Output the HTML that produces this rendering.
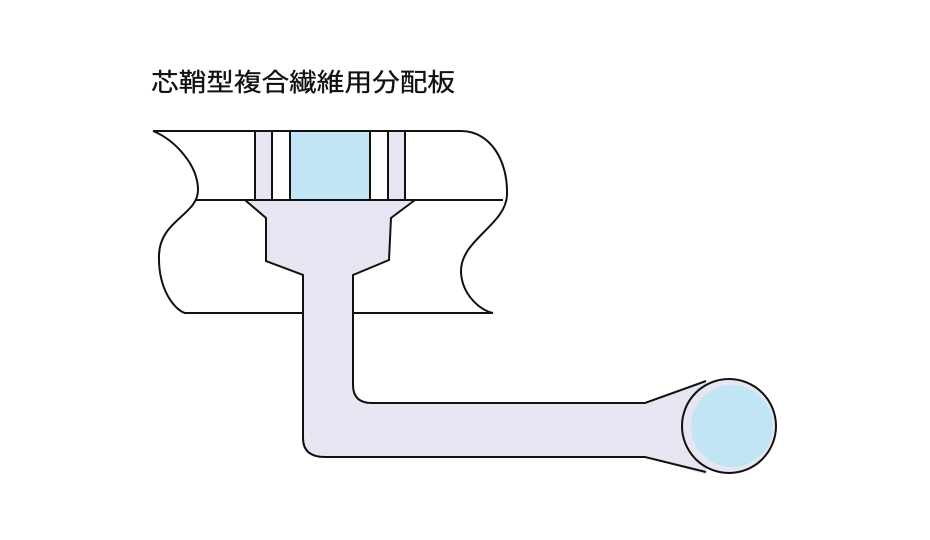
<!DOCTYPE html>
<html><head><meta charset="utf-8"><style>
html,body{margin:0;padding:0;background:#fff;}
svg{display:block;}
</style></head><body>
<svg width="930" height="540" viewBox="0 0 930 540" xmlns="http://www.w3.org/2000/svg">
<text x="151" y="91" font-family="'Liberation Sans','Noto Sans CJK JP',sans-serif" font-size="25" fill="#111" stroke="#111" stroke-width="0.3" textLength="304" lengthAdjust="spacingAndGlyphs">芯鞘型複合繊維用分配板</text>
<rect x="255" y="131" width="17" height="69" fill="#e5e6f1"/>
<rect x="388" y="131" width="17" height="69" fill="#e5e6f1"/>
<rect x="290" y="131" width="80" height="69" fill="#c2e5f5"/>
<path d="M245,200 L266,218 L266,261 L303,275 L303,438 Q303,457 325,457 L645,457 L706,475 L706,380 L645,403 L372,403 Q353,403 353,385 L353,275 L389,260 L391,218 L415,200 Z" fill="#e5e6f1"/>
<g fill="none" stroke="#111" stroke-width="2">
<path d="M153,131 L461,131 C490,131 508,160 507,195 C506,225 460,240 461,272 C462,295 480,310 493,313"/>
<path d="M153,131 C175,140 198,165 198,190 C198,215 160,220 159,255 C158,290 175,310 185,313 L302,313"/>
<path d="M352,313 L493,313"/>
<path d="M196,200 L503,200"/>
<path d="M245,200 L266,218 L266,261 L303,275 L303,438 Q303,457 325,457 L645,457 L706,472"/>
<path d="M415,200 L391,218 L389,260 L353,275 L353,385 Q353,403 372,403 L645,403 L706,381"/>
</g>
<g stroke="#111" stroke-width="2">
<line x1="255" y1="131" x2="255" y2="200"/><line x1="272" y1="131" x2="272" y2="200"/>
<line x1="290" y1="131" x2="290" y2="200"/><line x1="370" y1="131" x2="370" y2="200"/>
<line x1="388" y1="131" x2="388" y2="200"/><line x1="405" y1="131" x2="405" y2="200"/>
</g>
<circle cx="729" cy="426" r="47" fill="#e5e6f1" stroke="#111" stroke-width="2"/>
<circle cx="732" cy="426" r="41" fill="#c2e5f5"/>
</svg>
</body></html>
